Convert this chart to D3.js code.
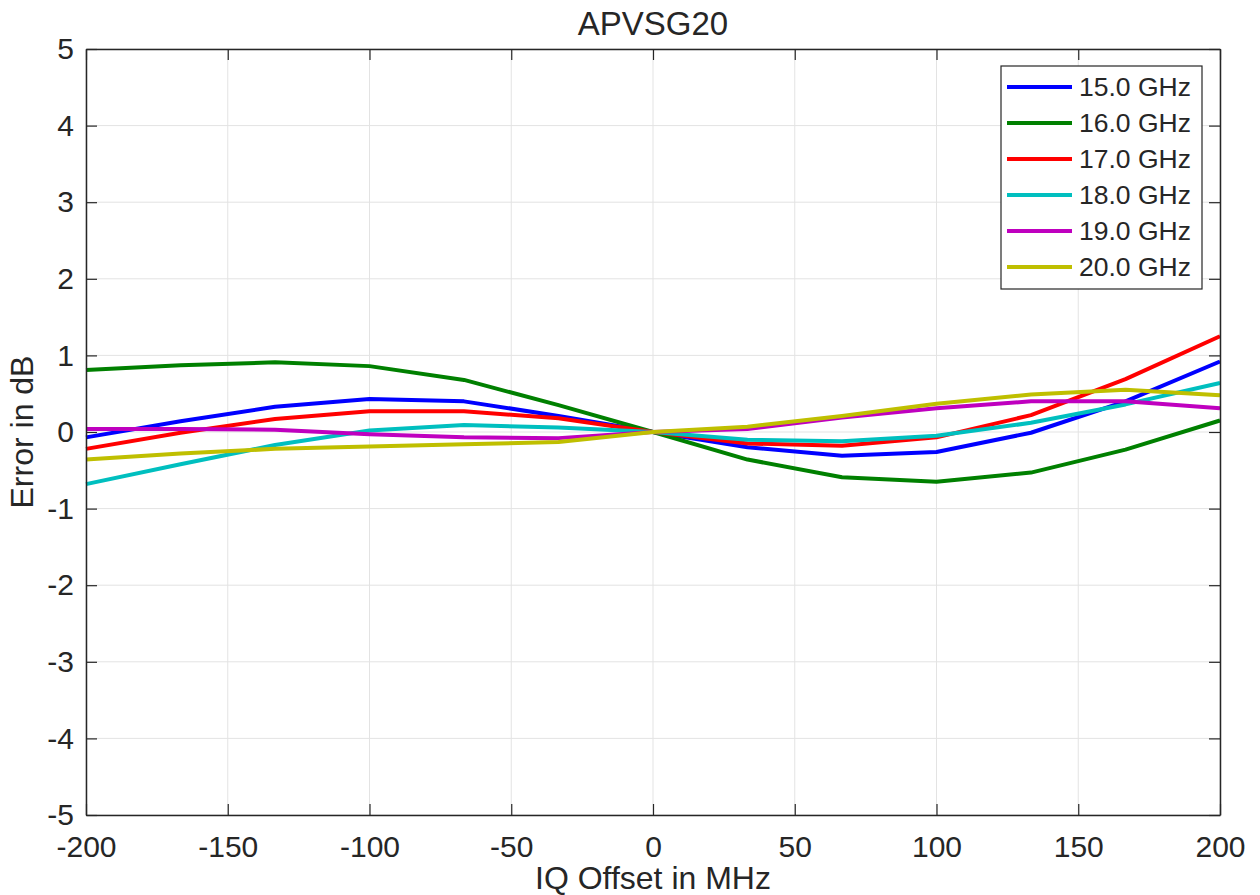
<!DOCTYPE html>
<html>
<head>
<meta charset="utf-8">
<script src="https://cdn.jsdelivr.net/npm/d3@7"></script>
<style>
body { margin: 0; background: #fff; }
text { font-family: "Liberation Sans", Arial, sans-serif; fill: #262626; }
</style>
</head>
<body>
<script>
// chart data
var offsets = [-200, -166.67, -133.33, -100, -66.67, -33.33, 0, 33.33, 66.67, 100, 133.33, 166.67, 200]
var labels = ['15.0 GHz', '16.0 GHz', '17.0 GHz', '18.0 GHz', '19.0 GHz', '20.0 GHz']
var err15 = [-0.07, 0.14, 0.33, 0.43, 0.40, 0.21, 0, -0.20, -0.31, -0.26, -0.01, 0.40, 0.92]
var err16 = [0.81, 0.87, 0.91, 0.86, 0.68, 0.35, 0, -0.36, -0.59, -0.65, -0.53, -0.23, 0.15]
var err17 = [-0.22, -0.01, 0.17, 0.27, 0.27, 0.18, 0, -0.15, -0.18, -0.07, 0.22, 0.69, 1.25]
var err18 = [-0.68, -0.42, -0.17, 0.02, 0.09, 0.06, 0, -0.10, -0.12, -0.05, 0.12, 0.36, 0.64]
var err19 = [0.04, 0.04, 0.03, -0.03, -0.07, -0.08, 0, 0.04, 0.19, 0.31, 0.40, 0.40, 0.31]
var err20 = [-0.36, -0.28, -0.22, -0.19, -0.16, -0.13, 0, 0.07, 0.21, 0.37, 0.49, 0.55, 0.48]
var xticks = [-200, -150, -100, -50, 0, 50, 100, 150, 200]
var yticks = [-5, -4, -3, -2, -1, 0, 1, 2, 3, 4, 5]

var colors = ['#0000ff', '#008000', '#ff0000', '#00bfbf', '#bf00bf', '#bfbf00']
var series = [err15, err16, err17, err18, err19, err20]

var W = 1260, H = 895
var pLeft = 86, pRight = 1220, pTop = 49, pBottom = 815

var svg = d3.select('body').append('svg').attr('width', W).attr('height', H)

var x = d3.scaleLinear().domain([-200, 200]).range([pLeft, pRight])
var y = d3.scaleLinear().domain([-5, 5]).range([pBottom, pTop])

// grid
var grid = svg.append('g')
grid.selectAll('.gx').data(xticks).enter().append('line')
	.attr('x1', d => x(d)).attr('x2', d => x(d)).attr('y1', pTop).attr('y2', pBottom)
	.attr('stroke', '#e3e3e3').attr('stroke-width', 1)
grid.selectAll('.gy').data(yticks).enter().append('line')
	.attr('y1', d => y(d)).attr('y2', d => y(d)).attr('x1', pLeft).attr('x2', pRight)
	.attr('stroke', '#e3e3e3').attr('stroke-width', 1)

// lines
var line = d3.line()
	.x(function(d, i){ return x(offsets[i]) })
	.y(function(d){ return y(d) })

svg.append('g').selectAll('path').data(series).enter().append('path')
	.attr('d', line)
	.attr('fill', 'none')
	.attr('stroke', (d, i) => colors[i])
	.attr('stroke-width', 4)
	.attr('stroke-linejoin', 'round')

// axes, ticks inward on all four sides
var tk = 11
var fmt = d => String(d)
svg.append('g').attr('transform', 'translate(0,' + pBottom + ')')
	.call(d3.axisBottom(x).tickValues(xticks).tickFormat(fmt).tickSize(-tk).tickPadding(21).tickSizeOuter(0))
svg.append('g').attr('transform', 'translate(0,' + pTop + ')')
	.call(d3.axisTop(x).tickValues(xticks).tickSize(-tk).tickFormat('').tickSizeOuter(0))
svg.append('g').attr('transform', 'translate(' + pLeft + ',0)')
	.call(d3.axisLeft(y).tickValues(yticks).tickFormat(fmt).tickSize(-tk).tickPadding(12).tickSizeOuter(0))
svg.append('g').attr('transform', 'translate(' + pRight + ',0)')
	.call(d3.axisRight(y).tickValues(yticks).tickSize(-tk).tickFormat('').tickSizeOuter(0))

svg.selectAll('.domain').attr('stroke', '#262626').attr('stroke-width', 1.5)
svg.selectAll('.tick line').attr('stroke', '#262626').attr('stroke-width', 1.2)
svg.selectAll('.tick text').attr('font-size', 30).attr('fill', '#262626')
	.attr('font-family', '"Liberation Sans", Arial, sans-serif')

// titles
svg.append('text').text('APVSG20').attr('x', (pLeft + pRight) / 2).attr('y', 35)
	.attr('text-anchor', 'middle').attr('font-size', 33).attr('fill', '#000')
svg.append('text').text('IQ Offset in MHz').attr('x', (pLeft + pRight) / 2).attr('y', 889)
	.attr('text-anchor', 'middle').attr('font-size', 32)
svg.append('text').text('Error in dB')
	.attr('transform', 'translate(33,' + ((pTop + pBottom) / 2) + ') rotate(-90)')
	.attr('text-anchor', 'middle').attr('font-size', 32)

// legend
var lg = svg.append('g')
lg.append('rect').attr('x', 1001).attr('y', 66).attr('width', 201).attr('height', 223)
	.attr('fill', '#fff').attr('stroke', '#262626').attr('stroke-width', 1.2)
var rows = lg.selectAll('.row').data(labels).enter().append('g')
	.attr('transform', (d, i) => 'translate(0,' + (87 + i * 36) + ')')
rows.append('line').attr('x1', 1007).attr('x2', 1072).attr('y1', 0).attr('y2', 0)
	.attr('stroke', (d, i) => colors[i]).attr('stroke-width', 4)
rows.append('text').text(d => d).attr('x', 1079).attr('y', 9).attr('font-size', 26.5).attr('fill', '#000')
</script>
</body>
</html>
